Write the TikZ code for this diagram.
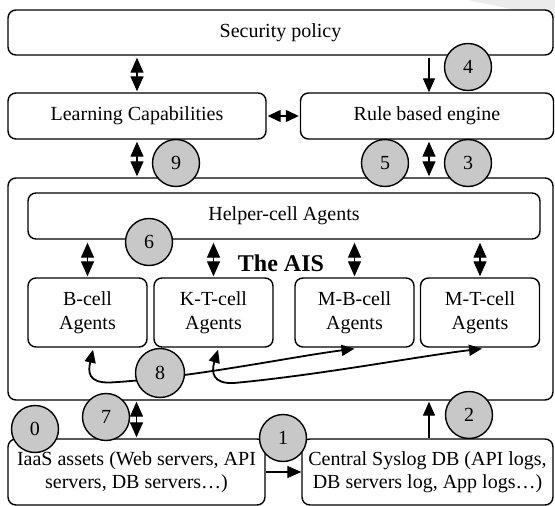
\documentclass[tikz,border=0pt]{standalone}
\usepackage{fontspec}
\setmainfont{Liberation Serif}
\usetikzlibrary{arrows.meta}
\definecolor{circgray}{RGB}{200,200,200}
\definecolor{bandgray}{RGB}{236,236,236}
\tikzset{
  box/.style={draw, line width=1.4pt, rounded corners=8pt, fill=white, inner sep=0pt, align=center,
              font=\fontsize{20}{23}\selectfont},
  cellbox/.style={box, minimum width=119pt, minimum height=69pt, font=\fontsize{20}{24}\selectfont},
  num/.style={circle, draw, line width=1.4pt, fill=circgray, minimum size=47pt, inner sep=0pt,
              font=\fontsize{20}{22}\selectfont},
  dbl/.style={line width=1.3pt, {Triangle[length=15pt,width=13pt]}-{Triangle[length=15pt,width=13pt]}},
  shortdbl/.style={line width=1.3pt, {Triangle[length=13pt,width=12pt]}-{Triangle[length=13pt,width=12pt]}},
  sgl/.style={line width=1.3pt, -{Triangle[length=14pt,width=12pt]}},
  curvearr/.style={line width=1.8pt, {Triangle[length=13pt,width=11pt]}-{Triangle[length=13pt,width=11pt]}},
}
\begin{document}
\begin{tikzpicture}[x=1pt,y=-1pt]
\useasboundingbox (0,0) rectangle (555,506);
\fill[bandgray] (467,0) -- (555,0) -- (555,18) -- cycle;

% main boxes
\node[box, minimum width=545pt, minimum height=45pt] (sec) at (280.5,32.5) {Security policy};
\node[box, minimum width=258pt, minimum height=46pt] (lc) at (137,116) {Learning Capabilities};
\node[box, minimum width=253pt, minimum height=46pt] (rbe) at (427,116) {Rule based engine};
\node[box, minimum width=545pt, minimum height=222pt] (ais) at (280.5,289) {};
\node[box, minimum width=512pt, minimum height=46pt] (help) at (284,216) {Helper-cell Agents};
\node[font=\fontsize{24}{26}\selectfont\bfseries] (aistxt) at (281,263) {The AIS};
\node[cellbox] (bc) at (87.5,312.5) {B-cell\\Agents};
\node[cellbox] (kt) at (213.5,312.5) {K-T-cell\\Agents};
\node[cellbox] (mb) at (354.5,312.5) {M-B-cell\\Agents};
\node[cellbox] (mt) at (480,312.5) {M-T-cell\\Agents};
\node[box, minimum width=257pt, minimum height=66pt] (iaas) at (136.5,472) {IaaS assets (Web servers, API\\servers, DB servers\ldots)};
\node[box, minimum width=251pt, minimum height=66pt] (csl) at (427.5,472) {Central Syslog DB (API logs,\\DB servers log, App logs\ldots)};

% straight connectors
\draw[dbl, shorten <=2pt, shorten >=1pt] (sec.south -| lc.north) -- (lc.north);
\draw[sgl, shorten <=2pt] ([xshift=2pt]sec.south -| rbe.north) -- ([xshift=2pt]rbe.north);
\draw[shortdbl, shorten <=1pt, shorten >=1pt] (lc.east) -- (rbe.west);
\draw[dbl, shorten <=2pt, shorten >=1pt] (lc.south) -- (lc.south |- ais.north);
\draw[dbl, shorten <=2pt, shorten >=1pt] ([xshift=2pt]rbe.south) -- ([xshift=2pt]rbe.south |- ais.north);
\draw[dbl, shorten <=3pt, shorten >=1pt] (help.south -| bc.north) -- (bc.north);
\draw[dbl, shorten <=3pt, shorten >=1pt] (help.south -| kt.north) -- (kt.north);
\draw[dbl, shorten <=3pt, shorten >=1pt] (help.south -| mb.north) -- (mb.north);
\draw[dbl, shorten <=3pt, shorten >=1pt] (help.south -| mt.north) -- (mt.north);
\draw[dbl, shorten <=1pt, shorten >=1pt] (iaas.north) -- (iaas.north |- ais.south);
\draw[sgl, shorten >=1pt] ([xshift=1.5pt]csl.north) -- ([xshift=1.5pt]csl.north |- ais.south);
\draw[sgl] (iaas.east) -- (csl.west);

% curved connectors
\coordinate (ka) at (110,382.5);
\coordinate (kb) at (234,383);
\draw[curvearr] ([xshift=5.5pt,yshift=-2pt]bc.south) .. controls (88,372) and (88,383) .. (ka)
   .. controls (190,378) and (290,357) .. ([yshift=-1pt]mb.south);
\draw[curvearr] ([xshift=4.5pt,yshift=-2pt]kt.south) .. controls (211,373) and (213,384) .. (kb)
   .. controls (320,375) and (420,356) .. ([xshift=2pt,yshift=-1pt]mt.south);

% numbered circles
\node[num] (n4) at (468,67) {4};
\node[num] (n9) at (176,163) {9};
\node[num] (n5) at (385,163) {5};
\node[num] (n3) at (468,163) {3};
\node[num] (n6) at (149,242) {6};
\node[num, minimum size=49pt] (n8) at (160,373) {8};
\node[num] (n7) at (106,417) {7};
\node[num] (n0) at (35,429) {0};
\node[num] (n1) at (283,438) {1};
\node[num] (n2) at (469,415) {2};
\end{tikzpicture}
\end{document}
